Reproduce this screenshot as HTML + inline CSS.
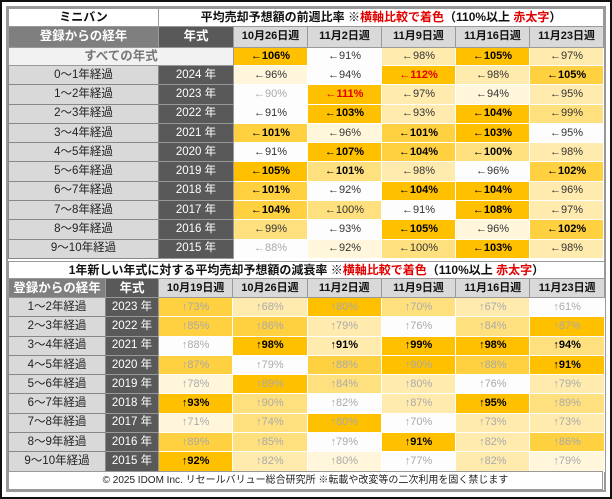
<!DOCTYPE html>
<html><head><meta charset="utf-8"><style>
*{margin:0;padding:0;box-sizing:border-box}
body{width:612px;height:499px;background:#fff;font-family:"Liberation Sans","Noto Sans CJK JP",sans-serif;overflow:hidden;position:relative}
.frame{position:absolute;left:0;top:0;width:612px;height:499px;border:2px solid #111}
.inner{position:absolute;left:6px;top:6px;width:600px;height:486px;border:2px solid #999;background:#fff}
table{position:absolute;left:8px;border-collapse:collapse;table-layout:fixed;width:595px}
td{text-align:center;vertical-align:middle;font-size:11px;line-height:13px;overflow:hidden;white-space:nowrap;border:1px solid #fff;padding:0}
.t{font-weight:bold;font-size:12px;background:#fff;border:1px solid #999;color:#111}
.lh{background:#7f7f7f;color:#fff;font-weight:bold;font-size:12.5px;border:1px solid #999}
.yh{background:#595959;color:#fff;font-weight:bold;font-size:12.5px;border:1px solid #999}
.dh{background:#d9d9d9;color:#111;font-weight:bold;font-size:11px;border:1px solid #999}
.lb{background:#d9d9d9;color:#222;font-size:11.5px;border:1px solid #888}
.yr{background:#595959;color:#fff;font-size:11.5px;border:1px solid #999}
.all{background:#f2f2f2;color:#777;font-weight:bold;font-size:12.5px;border:1px solid #999}
.r{color:#e00000;font-weight:bold}
.A{background:#ffc000}.B{background:#ffd03f}.C{background:#ffe07f}.D{background:#ffebae}.E{background:#fff6dc}.W{background:#fdfdfd}
.b{font-weight:bold;color:#000}.n{color:#333}.g{color:#aaa}
.red{color:#e00000;font-weight:bold}
.foot{position:absolute;left:8px;top:471px;width:595px;height:19px;border:1px solid #999;font-size:10px;text-align:center;line-height:17px;color:#222}
tr.h{height:19.3px}
</style></head><body>
<div class="frame"></div>
<div class="inner"></div>
<table style="top:8px">
<colgroup><col style="width:150px"><col style="width:75px"><col style="width:74px"><col style="width:74px"><col style="width:74px"><col style="width:74px"><col style="width:74px"></colgroup>
<tr style="height:18px"><td class="t">ミニバン</td><td class="t" colspan="6">平均売却予想額の前週比率 ※<span class="r">横軸比較で着色</span>（110%以上 <span class="r">赤太字</span>）</td></tr>
<tr style="height:20.7px"><td class="lh">登録からの経年</td><td class="yh">年式</td><td class="dh">10月26日週</td><td class="dh">11月2日週</td><td class="dh">11月9日週</td><td class="dh">11月16日週</td><td class="dh">11月23日週</td></tr>
<tr style="height:18.3px"><td class="all" colspan="2">すべての年式</td><td class="A b">←106%</td><td class="W n">←91%</td><td class="D n">←98%</td><td class="A b">←105%</td><td class="D n">←97%</td></tr>
<tr class="h"><td class="lb">0～1年経過</td><td class="yr">2024 年</td><td class="E n">←96%</td><td class="W n">←94%</td><td class="A red">←112%</td><td class="D n">←98%</td><td class="B b">←105%</td></tr>
<tr class="h"><td class="lb">1～2年経過</td><td class="yr">2023 年</td><td class="W g">←90%</td><td class="A red">←111%</td><td class="D n">←97%</td><td class="E n">←94%</td><td class="D n">←95%</td></tr>
<tr class="h"><td class="lb">2～3年経過</td><td class="yr">2022 年</td><td class="W n">←91%</td><td class="A b">←103%</td><td class="D n">←93%</td><td class="A b">←104%</td><td class="C n">←99%</td></tr>
<tr class="h"><td class="lb">3～4年経過</td><td class="yr">2021 年</td><td class="B b">←101%</td><td class="E n">←96%</td><td class="B b">←101%</td><td class="A b">←103%</td><td class="W n">←95%</td></tr>
<tr class="h"><td class="lb">4～5年経過</td><td class="yr">2020 年</td><td class="W n">←91%</td><td class="A b">←107%</td><td class="B b">←104%</td><td class="C b">←100%</td><td class="D n">←98%</td></tr>
<tr class="h"><td class="lb">5～6年経過</td><td class="yr">2019 年</td><td class="A b">←105%</td><td class="C b">←101%</td><td class="D n">←98%</td><td class="W n">←96%</td><td class="B b">←102%</td></tr>
<tr class="h"><td class="lb">6～7年経過</td><td class="yr">2018 年</td><td class="B b">←101%</td><td class="W n">←92%</td><td class="A b">←104%</td><td class="A b">←104%</td><td class="D n">←96%</td></tr>
<tr class="h"><td class="lb">7～8年経過</td><td class="yr">2017 年</td><td class="B b">←104%</td><td class="C n">←100%</td><td class="W n">←91%</td><td class="A b">←108%</td><td class="D n">←97%</td></tr>
<tr class="h"><td class="lb">8～9年経過</td><td class="yr">2016 年</td><td class="C n">←99%</td><td class="W n">←93%</td><td class="A b">←105%</td><td class="E n">←96%</td><td class="B b">←102%</td></tr>
<tr class="h"><td class="lb">9～10年経過</td><td class="yr">2015 年</td><td class="W g">←88%</td><td class="E n">←92%</td><td class="C n">←100%</td><td class="A b">←103%</td><td class="D n">←98%</td></tr>
</table>
<table style="top:261px">
<colgroup><col style="width:97px"><col style="width:53px"><col style="width:74.3px"><col style="width:74.3px"><col style="width:74.3px"><col style="width:74.3px"><col style="width:74.3px"><col style="width:74.3px"></colgroup>
<tr style="height:17px"><td class="t" colspan="8">1年新しい年式に対する平均売却予想額の減衰率 ※<span class="r">横軸比較で着色</span>（110%以上 <span class="r">赤太字</span>）</td></tr>
<tr style="height:19px"><td class="lh">登録からの経年</td><td class="yh">年式</td><td class="dh">10月19日週</td><td class="dh">10月26日週</td><td class="dh">11月2日週</td><td class="dh">11月9日週</td><td class="dh">11月16日週</td><td class="dh">11月23日週</td></tr>
<tr class="h"><td class="lb">1～2年経過</td><td class="yr">2023 年</td><td class="B g">↑73%</td><td class="D g">↑68%</td><td class="A g">↑80%</td><td class="C g">↑70%</td><td class="D g">↑67%</td><td class="W g">↑61%</td></tr>
<tr class="h"><td class="lb">2～3年経過</td><td class="yr">2022 年</td><td class="B g">↑85%</td><td class="B g">↑86%</td><td class="D g">↑79%</td><td class="W g">↑76%</td><td class="C g">↑84%</td><td class="A g">↑87%</td></tr>
<tr class="h"><td class="lb">3～4年経過</td><td class="yr">2021 年</td><td class="W g">↑88%</td><td class="A b">↑98%</td><td class="D b">↑91%</td><td class="A b">↑99%</td><td class="A b">↑98%</td><td class="C b">↑94%</td></tr>
<tr class="h"><td class="lb">4～5年経過</td><td class="yr">2020 年</td><td class="B g">↑87%</td><td class="W g">↑79%</td><td class="B g">↑88%</td><td class="A g">↑90%</td><td class="B g">↑88%</td><td class="A b">↑91%</td></tr>
<tr class="h"><td class="lb">5～6年経過</td><td class="yr">2019 年</td><td class="E g">↑78%</td><td class="A g">↑89%</td><td class="C g">↑84%</td><td class="D g">↑80%</td><td class="W g">↑76%</td><td class="D g">↑79%</td></tr>
<tr class="h"><td class="lb">6～7年経過</td><td class="yr">2018 年</td><td class="A b">↑93%</td><td class="C g">↑90%</td><td class="W g">↑82%</td><td class="D g">↑87%</td><td class="A b">↑95%</td><td class="C g">↑89%</td></tr>
<tr class="h"><td class="lb">7～8年経過</td><td class="yr">2017 年</td><td class="E g">↑71%</td><td class="C g">↑74%</td><td class="A g">↑80%</td><td class="W g">↑70%</td><td class="D g">↑73%</td><td class="D g">↑73%</td></tr>
<tr class="h"><td class="lb">8～9年経過</td><td class="yr">2016 年</td><td class="B g">↑89%</td><td class="C g">↑85%</td><td class="W g">↑79%</td><td class="A b">↑91%</td><td class="D g">↑82%</td><td class="B g">↑86%</td></tr>
<tr class="h"><td class="lb">9～10年経過</td><td class="yr">2015 年</td><td class="A b">↑92%</td><td class="D g">↑82%</td><td class="E g">↑80%</td><td class="W g">↑77%</td><td class="D g">↑82%</td><td class="E g">↑79%</td></tr>
</table>
<div class="foot">© 2025 IDOM Inc. リセールバリュー総合研究所 ※転載や改変等の二次利用を固く禁じます</div>
</body></html>
